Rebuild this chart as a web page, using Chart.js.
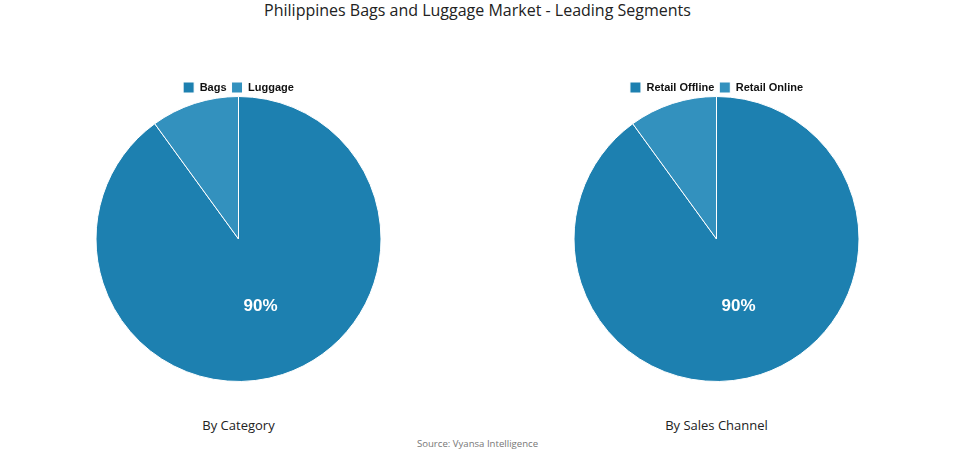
<!DOCTYPE html>
<html>
<head>
<meta charset="utf-8">
<script src="https://cdn.jsdelivr.net/npm/chart.js@4/dist/chart.umd.min.js"></script>
<style>
  html, body { margin: 0; padding: 0; background: #fff; }
  body { width: 955px; height: 454px; position: relative; overflow: hidden; font-family: "Open Sans", "DejaVu Sans", sans-serif; }
  #title { position: absolute; top: 0; left: 0; width: 955px; text-align: center; font-size: 16px; line-height: 20px; color: #222; }
  .box { position: absolute; top: 77px; width: 477px; height: 305px; }
  .caption { position: absolute; top: 416px; width: 477px; text-align: center; font-size: 13px; color: #222; }
  #source { position: absolute; top: 437px; width: 955px; text-align: center; font-size: 9.6px; color: #777; }
</style>
</head>
<body>
<div id="title">Philippines Bags and Luggage Market - Leading Segments</div>
<div class="box" style="left:0"><canvas id="chartCategory"></canvas></div>
<div class="box" style="left:478px"><canvas id="chartChannel"></canvas></div>
<div class="caption" style="left:0">By Category</div>
<div class="caption" style="left:478px">By Sales Channel</div>
<div id="source">Source: Vyansa Intelligence</div>
<script>
// datos
const categoryLabels = ['Bags', 'Luggage'];
const categoryValues = [90, 10];
const channelLabels = ['Retail Offline', 'Retail Online'];
const channelValues = [90, 10];
const sliceColors = ['#1d80b0', '#3391be'];

// etiqueta de porcentaje solo en la porción grande
const pctLabels = {
    id: 'pctLabels',
    afterDatasetsDraw(chart) {
        const ctx = chart.ctx;
        const ds = chart.data.datasets[0];
        const total = ds.data.reduce((a, b) => a + b, 0);
        chart.getDatasetMeta(0).data.forEach((arc, i) => {
            const pct = ds.data[i] / total * 100;
            if (pct < 15) return;
            const p = arc.tooltipPosition();
            ctx.save();
            ctx.font = 'bold 17px "Liberation Sans", Arial, sans-serif';
            ctx.fillStyle = '#ffffff';
            ctx.textAlign = 'center';
            ctx.textBaseline = 'middle';
            ctx.fillText(Math.round(pct) + '%', p.x, p.y);
            ctx.restore();
        });
    }
};

// leyenda más pegada al pie
const tightLegend = {
    id: 'tightLegend',
    beforeInit(chart) {
        const fit = chart.legend.fit;
        chart.legend.fit = function () {
            fit.bind(chart.legend)();
            this.height -= 7;
        };
    }
};

function makePie(id, labels, values) {
    const ctx = document.getElementById(id).getContext('2d');
    return new Chart(ctx, {
        type: 'pie',
        data: {
            labels: labels,
            datasets: [{
                data: values,
                backgroundColor: sliceColors,
                borderColor: '#ffffff',
                borderWidth: 1
            }]
        },
        options: {
            responsive: true,
            maintainAspectRatio: false,
            animation: false,
            layout: { padding: 0 },
            plugins: {
                legend: {
                    position: 'top',
                    labels: {
                        boxWidth: 11,
                        boxHeight: 11,
                        padding: 5,
                        color: '#111',
                        font: { family: '"Liberation Sans", Arial, sans-serif', size: 11, weight: 'bold' }
                    }
                },
                tooltip: { enabled: false }
            }
        },
        plugins: [tightLegend, pctLabels]
    });
}

makePie('chartCategory', categoryLabels, categoryValues);
makePie('chartChannel', channelLabels, channelValues);
</script>
</body>
</html>
